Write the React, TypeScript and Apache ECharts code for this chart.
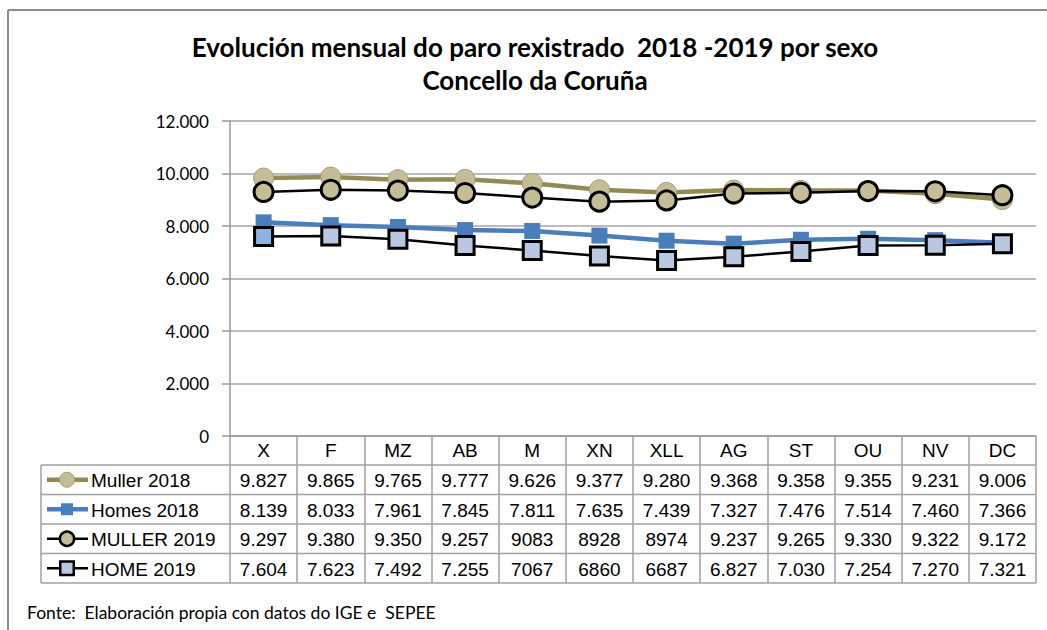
import React, { useEffect, useRef } from "react";
import * as echarts from "echarts";

const categories = ["X", "F", "MZ", "AB", "M", "XN", "XLL", "AG", "ST", "OU", "NV", "DC"];
const muller2018Labels = ["9.827", "9.865", "9.765", "9.777", "9.626", "9.377", "9.280", "9.368", "9.358", "9.355", "9.231", "9.006"];
const homes2018Labels = ["8.139", "8.033", "7.961", "7.845", "7.811", "7.635", "7.439", "7.327", "7.476", "7.514", "7.460", "7.366"];
const muller2019Labels = ["9.297", "9.380", "9.350", "9.257", "9083", "8928", "8974", "9.237", "9.265", "9.330", "9.322", "9.172"];
const home2019Labels = ["7.604", "7.623", "7.492", "7.255", "7067", "6860", "6687", "6.827", "7.030", "7.254", "7.270", "7.321"];
const seriesNames = ["Muller 2018", "Homes 2018", "MULLER 2019", "HOME 2019"];
const yTickLabels = ["0", "2.000", "4.000", "6.000", "8.000", "10.000", "12.000"];

const titleLine1 = "Evolución mensual do paro rexistrado  2018 -2019 por sexo";
const titleLine2 = "Concello da Coruña";
const sourceText = "Fonte:  Elaboración propia con datos do IGE e  SEPEE";

const parse = (s: string) => Number(s.replace(/\./g, ""));

const W = 1047;
const H = 630;
const GRID_LEFT = 230;
const GRID_RIGHT_X = 1036;
const GRID_TOP = 121;
const GRID_BOTTOM_Y = 436;
const TABLE_LEFT = 41;
const ROW_TOP = 465;
const ROW_H = 29.5;

const TABLE_FONT = "'Liberation Sans', Arial, sans-serif";
const CAL_FONT = "Lato, 'Open Sans', sans-serif";

const seriesStyles = [
  { line: "#948a54", lw: 4.5, symbol: "circle", size: 20, fill: "#c4bd97", border: "#a69f77", bw: 1 },
  { line: "#4a7ebb", lw: 4.5, symbol: "rect", size: 16, fill: "#4a7ebb", border: "#4a7ebb", bw: 0 },
  { line: "#000000", lw: 2.5, symbol: "circle", size: 19, fill: "#c4bd97", border: "#000000", bw: 3 },
  { line: "#000000", lw: 2.5, symbol: "rect", size: 18, fill: "#b9c7e1", border: "#000000", bw: 3 },
];

export default function App() {
  const ref = useRef<HTMLDivElement>(null);

  useEffect(() => {
    document.body.style.margin = "0";
    if (!ref.current) return;
    const chart = echarts.init(ref.current, null, { renderer: "svg" });
    const labelSets = [muller2018Labels, homes2018Labels, muller2019Labels, home2019Labels];

    const series = labelSets.map((labels, i) => {
      const st = seriesStyles[i];
      return {
        name: seriesNames[i],
        type: "line",
        data: labels.map((s, j) => {
          const v = parse(s);
          if (i === 3 && j === 0) {
            return { value: v, itemStyle: { color: "#8db3e2" } };
          }
          return v;
        }),
        symbol: st.symbol,
        symbolSize: st.size,
        showAllSymbol: true,
        lineStyle: { color: st.line, width: st.lw },
        itemStyle: { color: st.fill, borderColor: st.border, borderWidth: st.bw, opacity: 1 },
        z: 2 + i,
      };
    });

    const baseOption: any = {
      animation: false,
      backgroundColor: "#ffffff",
      grid: {
        left: GRID_LEFT,
        right: W - GRID_RIGHT_X,
        top: GRID_TOP,
        bottom: H - GRID_BOTTOM_Y,
        containLabel: false,
      },
      xAxis: {
        type: "category",
        data: categories,
        boundaryGap: true,
        axisLine: { show: true, lineStyle: { color: "#999999", width: 1.5 } },
        axisTick: {
          show: true,
          inside: false,
          length: ROW_TOP + ROW_H * 4 - GRID_BOTTOM_Y,
          lineStyle: { color: "#a0a0a0", width: 1.5 },
        },
        axisLabel: { color: "#000", fontSize: 19, fontFamily: TABLE_FONT, margin: 5 },
        splitLine: { show: false },
      },
      yAxis: {
        type: "value",
        min: 0,
        max: 12000,
        interval: 2000,
        axisLine: { show: true, lineStyle: { color: "#999999", width: 1.5 } },
        axisTick: { show: true, length: 8, lineStyle: { color: "#999999", width: 1.5 } },
        axisLabel: {
          color: "#000",
          fontSize: 17,
          fontFamily: CAL_FONT,
          margin: 21,
          formatter: (v: number) => yTickLabels[Math.round(v / 2000)] ?? String(v),
        },
        splitLine: { show: true, lineStyle: { color: "#a6a6a6", width: 1.5 } },
      },
      series,
    };
    chart.setOption(baseOption);

    const graphics: any[] = [];
    graphics.push({ type: "line", shape: { x1: 8, y1: 10, x2: W, y2: 10 }, style: { stroke: "#8c8c8c", lineWidth: 2 } });
    graphics.push({ type: "line", shape: { x1: 8, y1: 10, x2: 8, y2: H }, style: { stroke: "#8c8c8c", lineWidth: 2 } });
    graphics.push({
      type: "text",
      x: 535,
      y: 47,
      style: { text: titleLine1, font: `bold 26px ${CAL_FONT}`, fill: "#000", textAlign: "center", textVerticalAlign: "middle" },
    });
    graphics.push({
      type: "text",
      x: 535,
      y: 80,
      style: { text: titleLine2, font: `bold 26px ${CAL_FONT}`, fill: "#000", textAlign: "center", textVerticalAlign: "middle" },
    });
    for (let r = 0; r <= 4; r++) {
      const y = ROW_TOP + r * ROW_H;
      graphics.push({ type: "line", shape: { x1: TABLE_LEFT, y1: y, x2: GRID_RIGHT_X, y2: y }, style: { stroke: "#a0a0a0", lineWidth: 1.5 } });
    }
    graphics.push({ type: "line", shape: { x1: TABLE_LEFT, y1: ROW_TOP, x2: TABLE_LEFT, y2: ROW_TOP + 4 * ROW_H }, style: { stroke: "#a0a0a0", lineWidth: 1.5 } });
    labelSets.forEach((labels, i) => {
      const cy = ROW_TOP + (i + 0.5) * ROW_H;
      labels.forEach((s, j) => {
        const px = chart.convertToPixel({ xAxisIndex: 0 }, categories[j]) as number;
        graphics.push({
          type: "text",
          x: px,
          y: cy + 1,
          style: { text: s, font: `19px ${TABLE_FONT}`, fill: "#000", textAlign: "center", textVerticalAlign: "middle" },
        });
      });
      const st = seriesStyles[i];
      graphics.push({ type: "line", shape: { x1: 47, y1: cy, x2: 88, y2: cy }, style: { stroke: st.line, lineWidth: st.lw } });
      const ks = st.size * 0.75;
      if (st.symbol === "circle") {
        graphics.push({ type: "circle", shape: { cx: 67, cy, r: ks / 2 }, style: { fill: st.fill, stroke: st.border, lineWidth: st.bw ? Math.min(st.bw, 2.5) : 0 } });
      } else {
        graphics.push({ type: "rect", shape: { x: 67 - ks / 2, y: cy - ks / 2, width: ks, height: ks }, style: { fill: st.fill, stroke: st.border, lineWidth: st.bw ? Math.min(st.bw, 2.5) : 0 } });
      }
      graphics.push({
        type: "text",
        x: 91,
        y: cy + 1,
        style: { text: seriesNames[i], font: `19px ${TABLE_FONT}`, fill: "#000", textAlign: "left", textVerticalAlign: "middle" },
      });
    });
    graphics.push({
      type: "text",
      x: 27,
      y: 612,
      style: { text: sourceText, font: `17.5px ${CAL_FONT}`, fill: "#000", textAlign: "left", textVerticalAlign: "middle" },
    });

    chart.setOption({ graphic: graphics });

    return () => chart.dispose();
  }, []);

  return <div ref={ref} style={{ width: W, height: H }} />;
}
